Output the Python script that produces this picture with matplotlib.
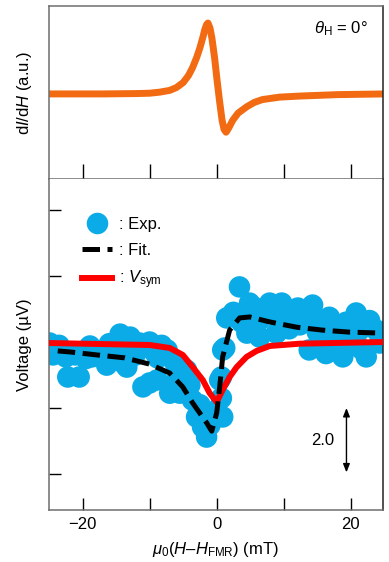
import matplotlib.pyplot as plt
from matplotlib.lines import Line2D

plt.rcParams['font.family'] = ['Liberation Sans', 'DejaVu Sans']
plt.rcParams['mathtext.fontset'] = 'custom'
plt.rcParams['mathtext.rm'] = 'Liberation Sans'
plt.rcParams['mathtext.it'] = 'Liberation Sans:italic'
plt.rcParams['mathtext.bf'] = 'Liberation Sans:bold'

# top panel: FMR derivative spectrum (a.u.)
fmrField = [-25, -17, -12, -10, -8.5, -7.0, -6.0, -5.0, -4.2, -3.6, -3.0, -2.5,
            -2.0, -1.8, -1.5, -1.3, -1.0, -0.7, -0.3, 0.0, 0.4, 0.8, 1.1, 1.4,
            1.8, 2.4, 3.2, 4.5, 5.6, 6.8, 9.4, 12.4, 18, 25]
fmrSignal = [0.0, 0.0, 0.005, 0.01, 0.025, 0.05, 0.09, 0.16, 0.26, 0.37, 0.51, 0.65,
             0.82, 0.9, 0.98, 1.0, 0.93, 0.78, 0.50, 0.24, -0.08, -0.37, -0.50, -0.54,
             -0.48, -0.37, -0.27, -0.18, -0.12, -0.08, -0.045, -0.03, -0.01, 0.0]

# bottom panel: measured voltage (uV)
expField = [-24.9, -24.4, -23.1, -21.1, -22.2, -20.5, -18.9, -18.6, -17.4, -16.4,
            -15.6, -14.4, -12.9, -14.1, -13.4, -11.5, -10.0, -8.8, -11.0, -10.0,
            -8.9, -7.4, -6.7, -7.0, -5.5, -5.1, -4.5, -3.6, -3.0, -2.1,
            -1.5, -1.0, 0.0, 0.9, 0.7, 0.45, 0.7, 1.2, 0.9, 1.5,
            3.4, 4.9, 4.5, 4.2, 6.4, 6.4, 7.9, 9.7, 8.9, 10.1,
            11.3, 14.3, 13.8, 12.4, 15.8, 13.8, 18.3, 18.8, 20.8, 21.3,
            22.3, 23.8, 24.3, 17.6, 19.8, 6.7, 12.1,
            -23.5, -22.5, -20.0, -19.5, -16.0, -15.0, -13.5, -12.2, -9.3, -8.2,
            -6.3, -5.9, -4.0, -2.5, 2.5, 3.7, 5.6, 7.2, 8.4, 10.8,
            12.8, 15.0, 16.8, 17.2, 19.3, 22.8, 24.5, 16.3, 21.5]
expVolt = [-0.03, -0.39, -0.24, -0.39, -1.06, -1.06, -0.12, -0.45, -0.33, -0.70,
           -0.24, 0.24, 0.15, -0.61, -0.76, -0.03, 0.0, -0.48, -1.36, -1.24,
           -1.15, -0.24, -1.30, -1.55, -1.55, -1.06, -0.85, -1.76, -2.27, -2.58,
           -2.88, -2.52, -2.06, -2.27, -1.70, -1.15, -1.06, -0.18, -0.24, 0.73,
           1.67, 1.18, 0.27, 0.73, 0.67, 0.15, 1.18, 1.18, 0.27, 0.67,
           0.88, 1.12, 0.76, 0.52, 0.58, -0.24, 0.45, -0.45, 0.88, 0.36,
           -0.45, 0.36, -0.03, -0.09, 0.06, 0.97, 1.03,
           -0.10, -0.45, -0.30, -0.50, -0.05, -0.45, 0.05, -0.40, -0.30, -0.10,
           -0.60, -1.25, -1.30, -1.90, 0.90, 0.60, 1.05, 0.85, 0.95, 0.40,
           0.85, 0.30, 0.75, 0.20, 0.60, 0.65, 0.30, -0.35, -0.20]

# fit
fitField = [-23.7, -21.9, -17.9, -13.7, -10.0, -7.0, -5.06, -3.57, -1.49, -0.74,
            0.0, 0.45, 0.89, 1.93, 3.42, 4.91, 7.9, 11.9, 15.8, 19.8, 24.7]
fitVolt = [-0.27, -0.30, -0.39, -0.48, -0.67, -0.94, -1.36, -1.85, -2.45, -2.70,
           -2.15, -1.36, -0.45, 0.36, 0.73, 0.76, 0.61, 0.45, 0.36, 0.30, 0.27]

# symmetric component
symField = [-25, -10, -7.0, -5.06, -3.57, -2.08, -1.04, 0.0, 0.89, 1.93,
            2.98, 4.46, 5.95, 7.9, 12.4, 24.7]
symVolt = [-0.03, -0.09, -0.18, -0.39, -0.76, -1.15, -1.55, -1.82, -1.45, -1.06,
           -0.76, -0.45, -0.27, -0.12, -0.05, 0.0]

blue = '#0aabe6'
orange = '#f26a12'
red = '#ff0000'

fig = plt.figure(figsize=(3.89, 5.62), dpi=100)
axTop = fig.add_axes([0.126, 0.6815, 0.8586, 0.3078])
axBot = fig.add_axes([0.126, 0.0925, 0.8586, 0.589])

for ax in (axTop, axBot):
    for side in ['left', 'bottom', 'top']:
        ax.spines[side].set_color('#6e6e6e')
        ax.spines[side].set_linewidth(1.1)
    ax.spines['right'].set_color('#222222')
    ax.spines['right'].set_linewidth(1.1)
    ax.set_xlim(-25, 24.8)
    ax.set_xticks([-20, -10, 0, 10, 20])

axTop.plot(fmrField, fmrSignal, color=orange, lw=5)
axTop.set_ylim(-1.2, 1.24)
axTop.set_yticks([])
axTop.tick_params(axis='x', direction='in', length=11, width=1, labelbottom=False)
axTop.set_ylabel(r'd$I$/d$H$ (a.u.)', fontsize=12, labelpad=11)
axTop.text(0.955, 0.87, r'$\theta_{\rm H}$ = 0°', transform=axTop.transAxes,
           ha='right', va='center', fontsize=12)

axBot.scatter(expField, expVolt, s=240, color=blue, edgecolors='none', zorder=1)
axBot.plot(symField, symVolt, color=red, lw=4.3, zorder=3)
axBot.plot(fitField, fitVolt, color='black', lw=3.6, ls=(0, (3.5, 1.5)), zorder=4)
axBot.spines['top'].set_visible(False)
axBot.set_ylim(-5.09, 4.94)
axBot.set_yticks([-4, -2, 0, 2, 4])
axBot.tick_params(axis='y', direction='in', length=8.5, width=1, labelleft=False)
axBot.tick_params(axis='x', direction='in', length=8.5, width=1, labelsize=12, pad=5)
axBot.set_xticklabels(['\u221220', '', '0', '', '20'])
axBot.set_xlabel(r'$\mu_0$($H$' + '\u2013' + r'$H_{\rm FMR}$) (mT)', fontsize=12, labelpad=6)
axBot.set_ylabel('Voltage (µV)', fontsize=12, labelpad=12)

axBot.annotate('', xy=(19.35, -2.0), xytext=(19.35, -3.95),
               arrowprops=dict(arrowstyle='<|-|>,head_length=0.5,head_width=0.2',
                               color='black', lw=1, shrinkA=0, shrinkB=0))
axBot.text(15.8, -2.97, '2.0', fontsize=12, ha='center', va='center')

handles = [Line2D([], [], ls='none', marker='o', ms=15.5, color=blue, mec='none'),
           Line2D([], [], color='black', lw=3.6, ls=(0, (3.5, 1.5))),
           Line2D([], [], color=red, lw=4.3)]
axBot.legend(handles, [': Exp.', ': Fit.', r': $V_{\rm sym}$'], loc='upper left',
             bbox_to_anchor=(0.1, 0.885), frameon=False, fontsize=12,
             handlelength=1.8, handletextpad=0.4, labelspacing=0.65,
             borderpad=0, borderaxespad=0)

fig.savefig('out.png', dpi=100)
